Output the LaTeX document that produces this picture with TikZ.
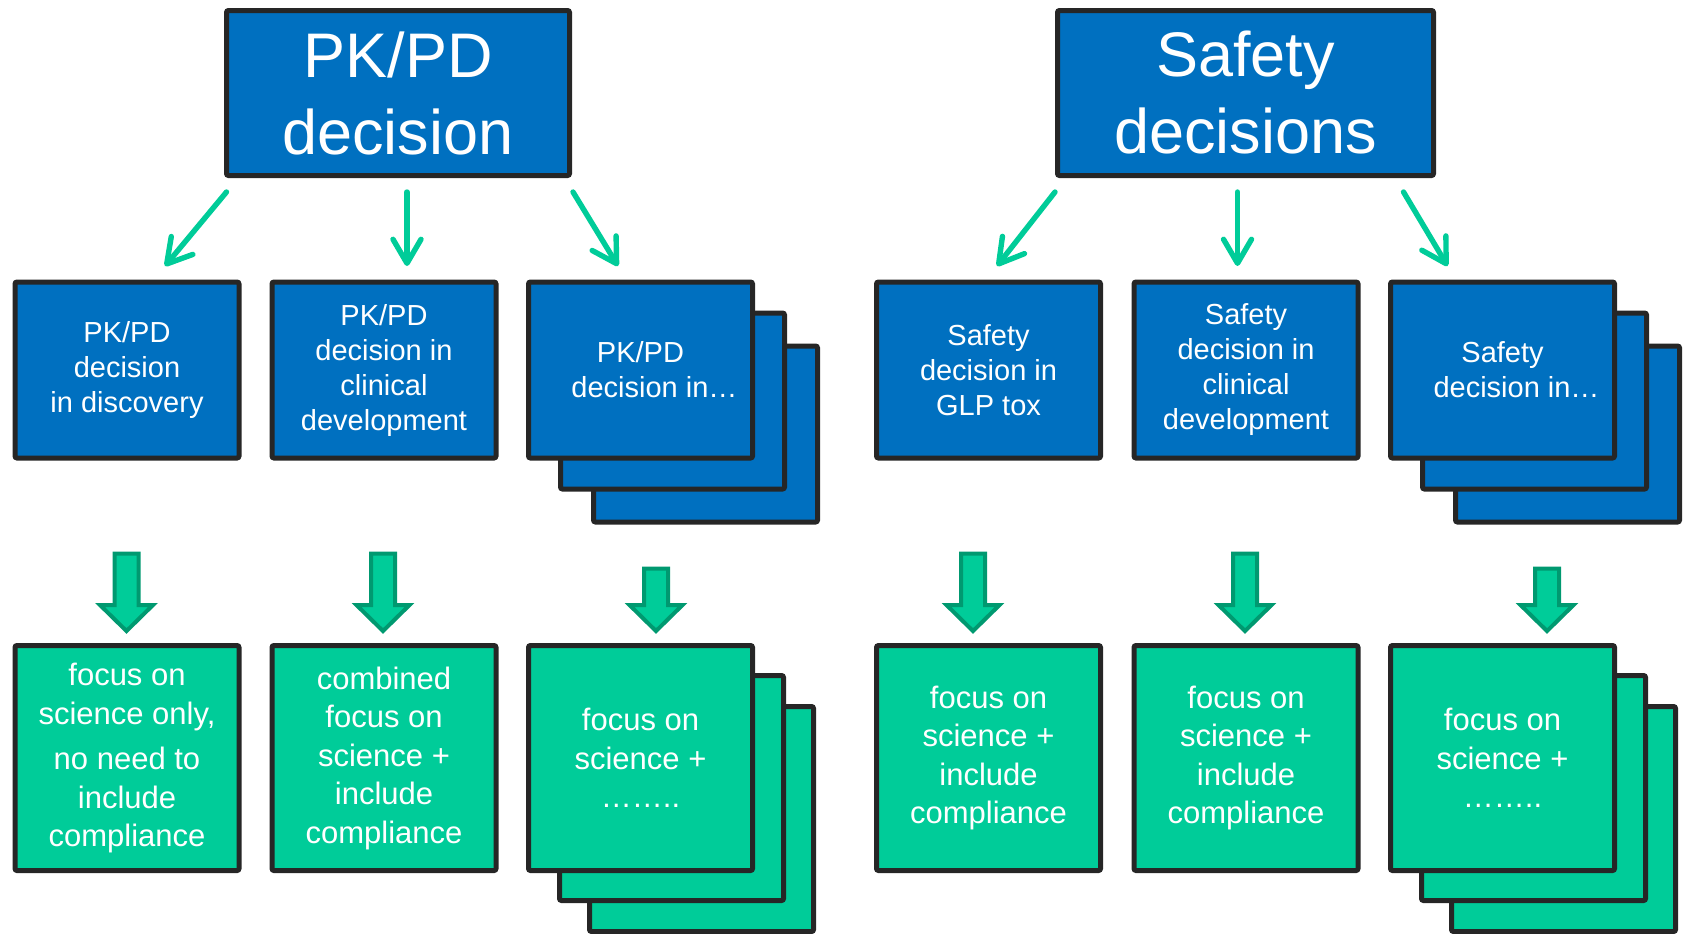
\documentclass[tikz,border=0pt]{standalone}
\usepackage{fontspec}
\setmainfont{Liberation Sans}
\usetikzlibrary{arrows.meta}
\definecolor{boxblue}{HTML}{0070C0}
\definecolor{boxgreen}{HTML}{00CC99}
\definecolor{edge}{HTML}{262626}
\definecolor{arrowedge}{HTML}{009970}
\tikzset{
  boxbase/.style={draw=edge,line width=2.5pt,rounded corners=1pt,text=white,align=center,
    inner sep=0,outer sep=0,minimum width=112pt},
  headbox/.style={boxbase,fill=boxblue,minimum height=82.5pt,font=\fontsize{31.5}{38.5}\selectfont},
  decbox/.style={boxbase,fill=boxblue,minimum height=88pt,font=\fontsize{14.5}{17.5}\selectfont,
    execute at begin node={\rule{0pt}{13pt}}},
  focusbox/.style={boxbase,fill=boxgreen,minimum height=112.5pt,font=\fontsize{15.5}{19.25}\selectfont,
    execute at begin node={\rule{0pt}{16pt}}},
  thinarrow/.style={draw=boxgreen,line width=2.7pt,line cap=round,-{Straight Barb[length=12pt,width=14pt,round]}},
  blockarrow/.style={draw=arrowedge,fill=boxgreen,line width=2pt}
}
% block arrow above a node: node, x offset, shaft length
\newcommand{\bigarrow}[3]{%
  \draw[blockarrow] ([shift={(#2,-14.5)}]#1.north) -- ++(-26.5,-26) -- ++(14.5,0) -- ++(0,-#3)
    -- ++(24,0) -- ++(0,#3) -- ++(14.5,0) -- cycle;}

\begin{document}
\begin{tikzpicture}[x=0.5pt,y=-0.5pt]
  \useasboundingbox (0,0) rectangle (1684,933);
  \clip (0,0) rectangle (1684,933);

  % top decisions
  \node[headbox,minimum width=171.5pt] (pk) at (398,93) {PK/PD\\decision};
  \node[headbox,minimum width=188pt] (sf) at (1245.5,93) {Safety\\decisions};

  % decision boxes
  \node[decbox] (pk1) at (127,370) {PK/PD\\decision\\in discovery};
  \node[decbox] (pk2) at (384,370) {PK/PD\\decision in\\clinical\\development};
  \node[decbox] (pk3c) at (705.5,434) {};
  \node[decbox] (pk3b) at (672.5,401) {};
  \node[decbox] (pk3) at (640.5,370) {PK/PD\\\hspace*{14pt}decision in…};

  \node[decbox] (sf1) at (988.5,370) {Safety\\decision in\\GLP tox};
  \node[decbox] (sf2) at (1246,370) {Safety\\decision in\\clinical\\development};
  \node[decbox] (sf3c) at (1567.5,434) {};
  \node[decbox] (sf3b) at (1534.5,401) {};
  \node[decbox] (sf3) at (1502.5,370) {Safety\\\hspace*{14pt}decision in…};

  % focus boxes
  \node[focusbox] (pkf1) at (127,758) {focus on\\science only,\\[3.5pt]no need to\\include\\compliance};
  \node[focusbox] (pkf2) at (384,758) {combined\\focus on\\science +\\include\\compliance};
  \node[focusbox] (pkf3c) at (701.5,819) {};
  \node[focusbox] (pkf3b) at (671.5,788) {};
  \node[focusbox] (pkf3) at (640.5,758) {focus on\\science +\\……..};

  \node[focusbox] (sff1) at (988.5,758) {focus on\\science +\\include\\compliance};
  \node[focusbox] (sff2) at (1246,758) {focus on\\science +\\include\\compliance};
  \node[focusbox] (sff3c) at (1563.5,819) {};
  \node[focusbox] (sff3b) at (1533.5,788) {};
  \node[focusbox] (sff3) at (1502.5,758) {focus on\\science +\\……..};

  % thin arrows
  \draw[thinarrow] ([shift={(0,16.5)}]pk.south west) -- ([shift={(38,-16)}]pk1.north);
  \draw[thinarrow] ([shift={(9,16.5)}]pk.south) -- ([shift={(23,-16)}]pk2.north);
  \draw[thinarrow] ([shift={(3.5,16.5)}]pk.south east) -- ([shift={(-22.5,-16)}]pk3.north);
  \draw[thinarrow] ([shift={(-2.5,16.5)}]sf.south west) -- ([shift={(8.5,-16)}]sf1.north);
  \draw[thinarrow] ([shift={(-8,16.5)}]sf.south) -- ([shift={(-8.5,-16)}]sf2.north);
  \draw[thinarrow] ([shift={(-30,16.5)}]sf.south east) -- ([shift={(-55,-16)}]sf3.north);

  % block arrows
  \bigarrow{pkf1}{-0.5}{51.5}
  \bigarrow{pkf2}{-1}{51.5}
  \bigarrow{pkf3}{15.5}{36.5}
  \bigarrow{sff1}{-15.5}{51.5}
  \bigarrow{sff2}{-1}{51.5}
  \bigarrow{sff3}{44.5}{36.5}
\end{tikzpicture}
\end{document}
